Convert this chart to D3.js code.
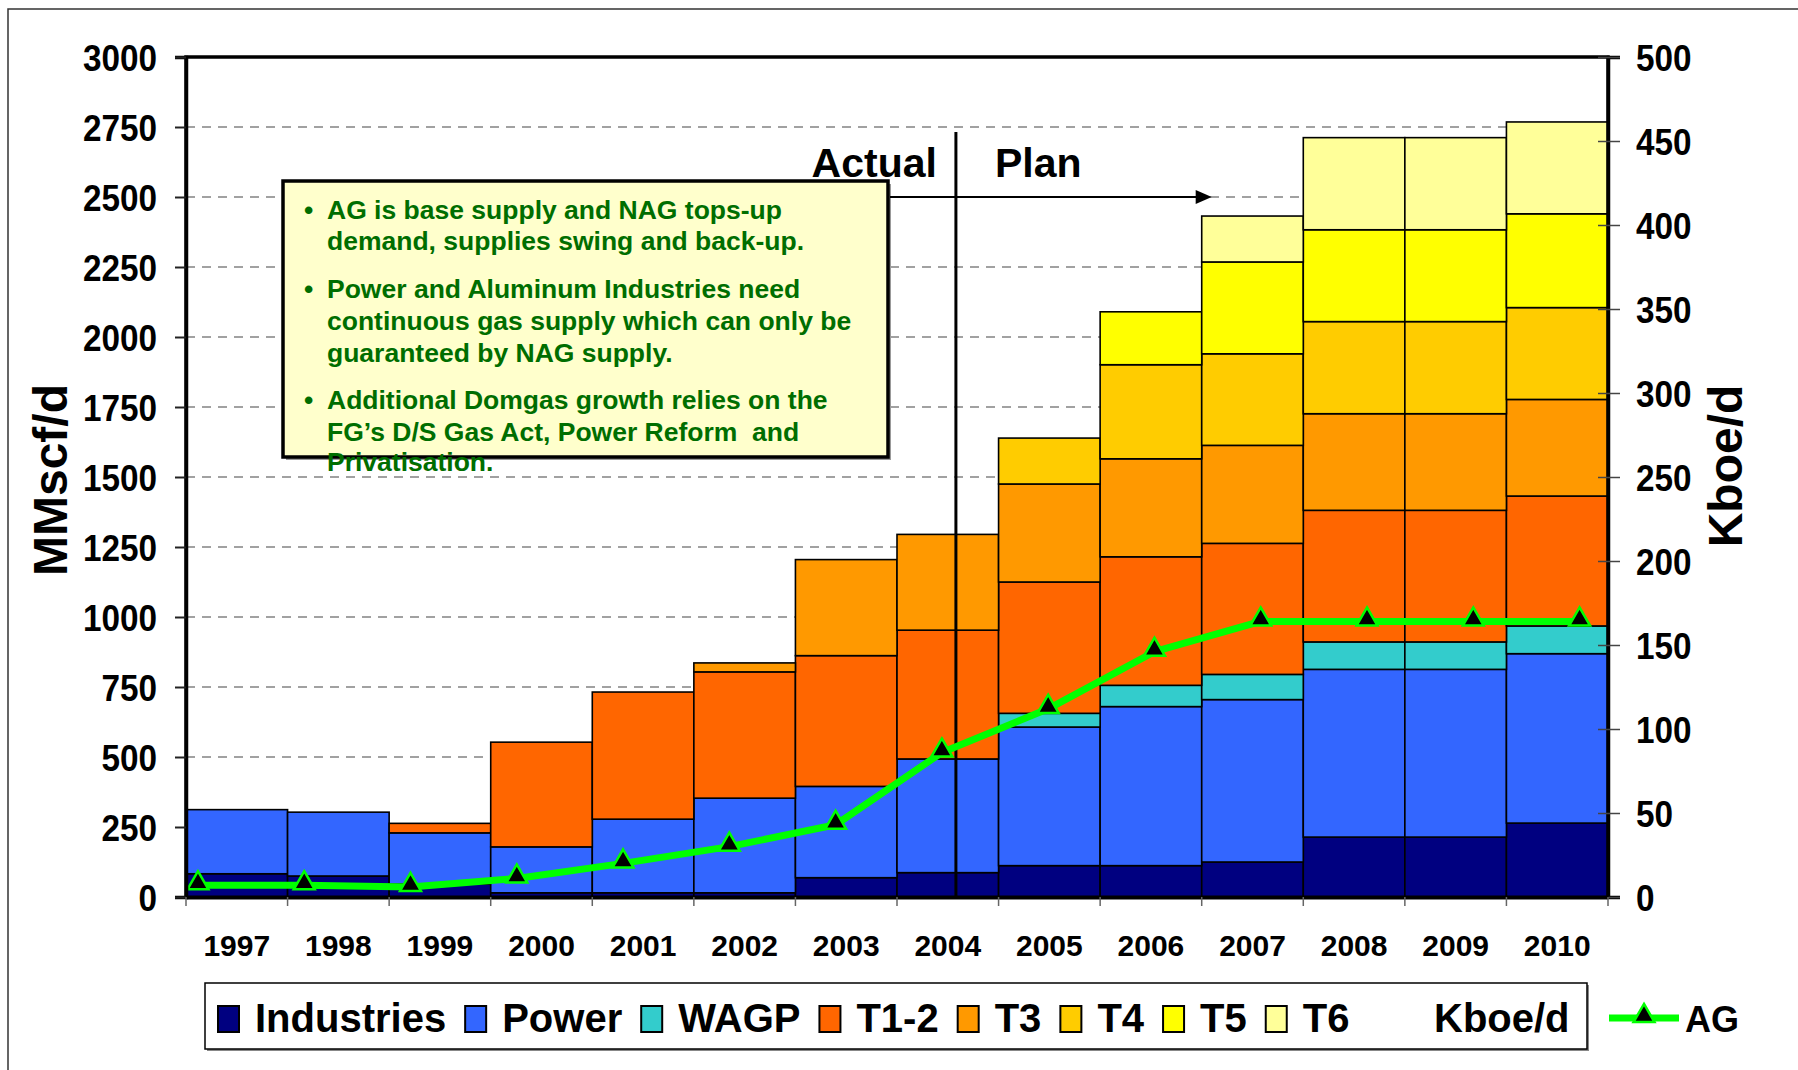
<!DOCTYPE html>
<html>
<head>
<meta charset="utf-8">
<script src="https://cdn.jsdelivr.net/npm/d3@7"></script>
<style>
  html, body { margin: 0; padding: 0; background: #fff; }
  svg { display: block; }
  text { font-family: "Liberation Sans", Arial, sans-serif; font-weight: bold; white-space: pre; }
</style>
</head>
<body>
<svg id="chart" width="1798" height="1070"></svg>
<script>
// ---------------- DATA ----------------
const years = ["1997","1998","1999","2000","2001","2002","2003","2004","2005","2006","2007","2008","2009","2010"];
const industries = [83, 75, 46, 15, 15, 15, 69, 87, 112, 112, 125, 214, 214, 264];
const power      = [229, 228, 183, 164, 263, 338, 326, 406, 495, 568, 580, 599, 599, 605];
const wagp       = [0, 0, 0, 0, 0, 0, 0, 0, 49, 76, 90, 98, 98, 99];
const t12        = [0, 0, 34, 374, 454, 451, 467, 460, 469, 459, 468, 470, 470, 464];
const t3         = [0, 0, 0, 0, 0, 32, 343, 342, 350, 350, 350, 345, 345, 345];
const t4         = [0, 0, 0, 0, 0, 0, 0, 0, 164, 336, 327, 329, 329, 328];
const t5         = [0, 0, 0, 0, 0, 0, 0, 0, 0, 189, 328, 328, 328, 335];
const t6         = [0, 0, 0, 0, 0, 0, 0, 0, 0, 0, 164, 329, 329, 328];
const agKboe     = [7, 7, 6, 11, 20, 30, 43, 86, 112, 146, 164, 164, 164, 164];
const leftTicks  = [0, 250, 500, 750, 1000, 1250, 1500, 1750, 2000, 2250, 2500, 2750, 3000];
const rightTicks = [0, 50, 100, 150, 200, 250, 300, 350, 400, 450, 500];
const seriesNames  = ["Industries", "Power", "WAGP", "T1-2", "T3", "T4", "T5", "T6"];
const seriesColors = ["#000080", "#3366FF", "#33CCCC", "#FF6600", "#FF9900", "#FFCC00", "#FFFF00", "#FFFF99"];
const noteLines = [
  {b: true,  t: "AG is base supply and NAG tops-up"},
  {b: false, t: "demand, supplies swing and back-up."},
  {b: true,  t: "Power and Aluminum Industries need"},
  {b: false, t: "continuous gas supply which can only be"},
  {b: false, t: "guaranteed by NAG supply."},
  {b: true,  t: "Additional Domgas growth relies on the"},
  {b: false, t: "FG\u2019s D/S Gas Act, Power Reform  and"},
  {b: false, t: "Privatisation."}
];

// ---------------- LAYOUT ----------------
const svg = d3.select("#chart");
const P = {left: 186, right: 1608, top: 57, bottom: 897};
const pw = P.right - P.left;
const FONT = "Liberation Sans, Arial, sans-serif";

const x = d3.scaleBand().domain(years).range([P.left, P.right]).padding(0);
const y = d3.scaleLinear().domain([0, 3000]).range([P.bottom, P.top]);
const y2 = d3.scaleLinear().domain([0, 500]).range([P.bottom, P.top]);
const xLine = d3.scalePoint().domain(years).range([P.left + 0.0084 * pw, P.left + 0.98 * pw]);

// outer frame
svg.append("rect").attr("x", 8).attr("y", 9).attr("width", 1830).attr("height", 1100)
  .attr("fill", "none").attr("stroke", "#333").attr("stroke-width", 1.5);

// gridlines
svg.append("g").selectAll("line").data(leftTicks.filter(d => d > 0 && d < 3000)).join("line")
  .attr("x1", P.left).attr("x2", P.right)
  .attr("y1", d => y(d)).attr("y2", d => y(d))
  .attr("stroke", "#444").attr("stroke-width", 1.2).attr("stroke-dasharray", "9,7");

// stacked bars
const rows = years.map((yr, i) => ({
  year: yr,
  "Industries": industries[i], "Power": power[i], "WAGP": wagp[i], "T1-2": t12[i],
  "T3": t3[i], "T4": t4[i], "T5": t5[i], "T6": t6[i]
}));
const stacked = d3.stack().keys(seriesNames)(rows);
const color = d3.scaleOrdinal().domain(seriesNames).range(seriesColors);

svg.append("g").selectAll("g").data(stacked).join("g")
  .attr("fill", d => color(d.key))
  .selectAll("rect").data(d => d.filter(s => s[1] - s[0] > 0)).join("rect")
  .attr("x", d => x(d.data.year))
  .attr("width", x.bandwidth())
  .attr("y", d => y(d[1]))
  .attr("height", d => y(d[0]) - y(d[1]))
  .attr("stroke", "#000").attr("stroke-width", 1.6);

// Actual / Plan divider
const divX = x("2004") + x.bandwidth() * 0.58;
svg.append("line").attr("x1", divX).attr("x2", divX).attr("y1", 132).attr("y2", P.bottom)
  .attr("stroke", "#000").attr("stroke-width", 3);
svg.append("text").attr("x", divX - 19).attr("y", 177).attr("text-anchor", "end")
  .attr("font-size", 41).text("Actual");
svg.append("text").attr("x", divX + 39).attr("y", 177).attr("text-anchor", "start")
  .attr("font-size", 41).text("Plan");

// annotation box
const box = {x: 283, y: 181, w: 605, h: 276};
svg.append("rect").attr("x", box.x + 3).attr("y", box.y + 3).attr("width", box.w).attr("height", box.h)
  .attr("fill", "#999");
svg.append("rect").attr("x", box.x).attr("y", box.y).attr("width", box.w).attr("height", box.h)
  .attr("fill", "#FFFFCC").attr("stroke", "#000").attr("stroke-width", 3.5);

// arrow
const arrowY = y(2500);
const arrowTip = x("2007") + 10;
svg.append("line").attr("x1", box.x + box.w + 2).attr("x2", arrowTip - 14).attr("y1", arrowY).attr("y2", arrowY)
  .attr("stroke", "#000").attr("stroke-width", 2.2);
svg.append("path")
  .attr("d", `M${arrowTip},${arrowY} L${arrowTip - 16},${arrowY - 7} L${arrowTip - 16},${arrowY + 7} Z`)
  .attr("fill", "#000");

const baselines = [219, 250, 298, 330, 362, 409, 441, 471];
const noteG = svg.append("g").attr("fill", "#006e00").attr("font-size", 26.5);
noteLines.forEach((l, i) => {
  if (l.b) noteG.append("text").attr("x", 304).attr("y", baselines[i]).text("\u2022");
  noteG.append("text").attr("x", 327).attr("y", baselines[i]).text(l.t);
});

// AG line
const line = d3.line().x((d, i) => xLine(years[i])).y(d => y2(d));
svg.append("path").datum(agKboe).attr("d", line)
  .attr("fill", "none").attr("stroke", "#00FF00").attr("stroke-width", 7).attr("stroke-linejoin", "round");
const tri = d3.symbol().type(d3.symbolTriangle).size(190);
svg.append("g").selectAll("path").data(agKboe).join("path")
  .attr("transform", (d, i) => `translate(${xLine(years[i])},${y2(d) - 2})`)
  .attr("d", tri).attr("fill", "#000").attr("stroke", "#00FF00").attr("stroke-width", 2.5);

// frame of the plot
svg.append("path")
  .attr("d", `M${P.left},${P.bottom} L${P.left},${P.top} L${P.right},${P.top} L${P.right},${P.bottom}`)
  .attr("fill", "none").attr("stroke", "#000").attr("stroke-width", 3.5);

// axes
const leftAxis = d3.axisLeft(y).tickValues(leftTicks).tickFormat(d3.format("d")).tickSize(11).tickPadding(18);
const gl = svg.append("g").attr("transform", `translate(${P.left},0)`).call(leftAxis);
gl.select(".domain").attr("stroke", "#000").attr("stroke-width", 3.5);
gl.selectAll(".tick line").attr("stroke", "#222").attr("stroke-width", 2);
gl.selectAll(".tick text").attr("font-size", 37).attr("font-family", FONT)
  .attr("font-weight", "bold").attr("fill", "#000").attr("dy", "0.36em")
  .attr("x", -29 / 0.9).attr("transform", "scale(0.9,1)");

const rightAxis = d3.axisRight(y2).tickValues(rightTicks).tickFormat(d3.format("d")).tickSize(12).tickPadding(16);
const gr = svg.append("g").attr("transform", `translate(${P.right},0)`).call(rightAxis);
gr.select(".domain").attr("stroke", "#000").attr("stroke-width", 3.5);
gr.selectAll(".tick line").attr("stroke", "#444").attr("stroke-width", 1.5).attr("x1", -10);
gr.selectAll(".tick text").attr("font-size", 37).attr("font-family", FONT)
  .attr("font-weight", "bold").attr("fill", "#000").attr("dy", "0.36em")
  .attr("x", 28 / 0.9).attr("transform", "scale(0.9,1)");

const bottomAxis = d3.axisBottom(x).tickSize(0).tickPadding(38);
const gb = svg.append("g").attr("transform", `translate(0,${P.bottom})`).call(bottomAxis);
gb.select(".domain").attr("stroke", "#000").attr("stroke-width", 4);
gb.selectAll(".tick text").attr("font-size", 30).attr("font-family", FONT)
  .attr("font-weight", "bold").attr("fill", "#000");
// category boundary ticks
svg.append("g").selectAll("line").data(years.concat(["end"])).join("line")
  .attr("x1", (d, i) => i < years.length ? x(d) : P.right)
  .attr("x2", (d, i) => i < years.length ? x(d) : P.right)
  .attr("y1", P.bottom).attr("y2", P.bottom + 9)
  .attr("stroke", "#666").attr("stroke-width", 1.5);

// axis titles
svg.append("text").attr("transform", `translate(67,${(P.top + P.bottom) / 2 + 3}) rotate(-90)`)
  .attr("text-anchor", "middle").attr("font-size", 48).text("MMscf/d");
svg.append("text").attr("transform", `translate(1742,${(P.top + P.bottom) / 2 - 11}) rotate(-90)`)
  .attr("text-anchor", "middle").attr("font-size", 48).text("Kboe/d");

// legend
const lg = svg.append("g");
lg.append("rect").attr("x", 207).attr("y", 985).attr("width", 1382).attr("height", 66).attr("fill", "#888");
lg.append("rect").attr("x", 205).attr("y", 983).attr("width", 1382).attr("height", 66)
  .attr("fill", "#fff").attr("stroke", "#000").attr("stroke-width", 1.5);
let lx = 218;
seriesNames.forEach((name, i) => {
  lg.append("rect").attr("x", lx).attr("y", 1006).attr("width", 21).attr("height", 26)
    .attr("fill", seriesColors[i]).attr("stroke", "#000").attr("stroke-width", 2);
  const t = lg.append("text").attr("x", lx + 37).attr("y", 1032).attr("font-size", 40).text(name);
  lx = lx + 37 + t.node().getComputedTextLength() + 19;
});
lg.append("text").attr("x", 1434).attr("y", 1032).attr("font-size", 40).text("Kboe/d");
lg.append("line").attr("x1", 1609).attr("x2", 1679).attr("y1", 1018).attr("y2", 1018)
  .attr("stroke", "#00FF00").attr("stroke-width", 7);
lg.append("path").attr("transform", "translate(1644,1016)").attr("d", tri)
  .attr("fill", "#000").attr("stroke", "#00FF00").attr("stroke-width", 2.5);
lg.append("text").attr("x", 1685).attr("y", 1032).attr("font-size", 36).text("AG");
</script>
</body>
</html>
